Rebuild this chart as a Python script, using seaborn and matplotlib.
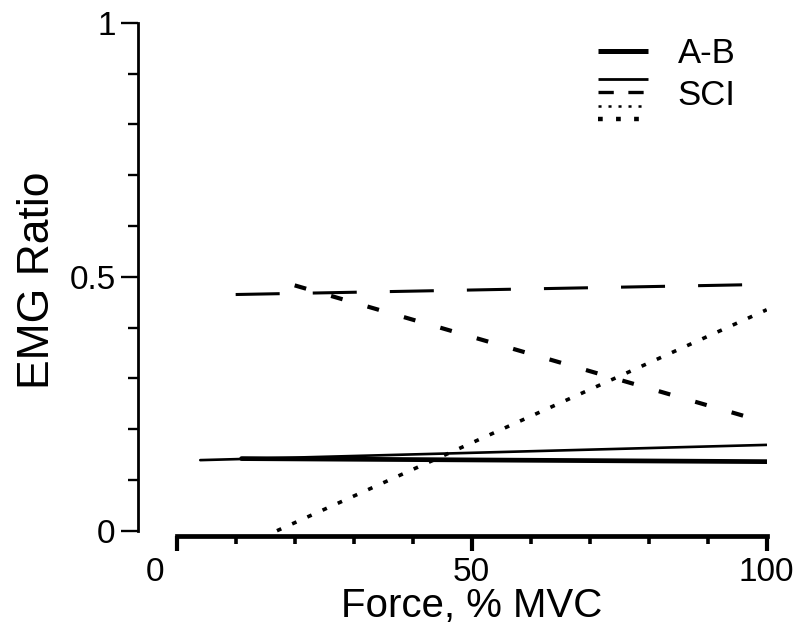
import numpy as np
import pandas as pd
import seaborn as sns
import matplotlib
matplotlib.use("Agg")
import matplotlib.pyplot as plt
from matplotlib.lines import Line2D
from matplotlib.legend_handler import HandlerBase
from matplotlib.ticker import MultipleLocator
import matplotlib.transforms as mtransforms

# ---- data ----
x_ticks = [0, 50, 100]
x_tick_labels = ["0", "50", "100"]
y_ticks = [0, 0.5, 1]
y_tick_labels = ["0", "0.5", "1"]

force_ab = [11, 100]
ratio_ab = [0.142, 0.136]

force_sci_solid = [4, 100]
ratio_sci_solid = [0.139, 0.169]

force_sci_dash = [10, 100]
ratio_sci_dash = [0.465, 0.485]

force_sci_short = [20, 100]
ratio_sci_short = [0.483, 0.213]

force_sci_dot = [17, 100]
ratio_sci_dot = [0.0, 0.435]

legend_labels = ["A-B", "SCI"]

# ---- style ----
sns.set_theme(style="ticks")
plt.rcParams["font.family"] = ["Liberation Sans", "DejaVu Sans"]
plt.rcParams["lines.scale_dashes"] = False
plt.rcParams["text.color"] = "black"
plt.rcParams["axes.labelcolor"] = "black"

fig = plt.figure(figsize=(7.94, 6.30), dpi=100)
ax = fig.add_axes([0.2225, 0.1487, 0.7431, 0.8152])

# ---- lines ----
sns.lineplot(x=force_ab, y=ratio_ab, ax=ax, color="black", lw=3.4,
             linestyle="-", sort=False, estimator=None)
sns.lineplot(x=force_sci_solid, y=ratio_sci_solid, ax=ax, color="black", lw=1.9,
             linestyle="-", sort=False, estimator=None)
sns.lineplot(x=force_sci_dash, y=ratio_sci_dash, ax=ax, color="black", lw=2.2,
             linestyle=(0, (31.7, 23.8)), sort=False, estimator=None)
sns.lineplot(x=force_sci_short, y=ratio_sci_short, ax=ax, color="black", lw=3.0,
             linestyle=(0, (8.6, 18.7)), sort=False, estimator=None)
sns.lineplot(x=force_sci_dot, y=ratio_sci_dot, ax=ax, color="black", lw=2.6,
             linestyle=(0, (3.4, 8.6)), sort=False, estimator=None)

# ---- axes ----
ax.set_xlim(0, 100)
ax.set_ylim(-0.011, 1.0)
sns.despine(ax=ax)
ax.spines["left"].set_position(("outward", 27.9))
ax.spines["left"].set_bounds(0, 1)
ax.spines["bottom"].set_bounds(0, 100)
ax.spines["left"].set_linewidth(2.0)
ax.spines["bottom"].set_linewidth(3.4)
for s in ("left", "bottom"):
    ax.spines[s].set_color("black")

ax.set_xticks(x_ticks)
ax.set_xticklabels(x_tick_labels)
ax.set_yticks(y_ticks)
ax.set_yticklabels(y_tick_labels)
ax.xaxis.set_minor_locator(MultipleLocator(10))
ax.yaxis.set_minor_locator(MultipleLocator(0.1))
ax.tick_params(axis="x", which="major", direction="out", length=11, width=3.0,
               pad=4, labelsize=24, color="black", labelcolor="black")
ax.tick_params(axis="x", which="minor", direction="out", length=6, width=2.6,
               color="black")
ax.tick_params(axis="y", which="major", direction="out", length=12, width=1.7,
               pad=4, labelsize=24, color="black", labelcolor="black")
ax.tick_params(axis="y", which="minor", direction="out", length=7, width=1.7,
               color="black")

# shift the "0" x tick label left as in the reference
lbl0 = ax.xaxis.get_major_ticks()[0].label1
lbl0.set_transform(lbl0.get_transform() +
                   mtransforms.ScaledTranslation(-0.22, 0, fig.dpi_scale_trans))

ax.set_xlabel("Force, % MVC", fontsize=29, labelpad=-1)
ax.set_ylabel("EMG Ratio", fontsize=32)
ax.yaxis.set_label_coords(-0.201, 0.499)

# ---- legend ----
class StackedHandler(HandlerBase):
    def __init__(self, offsets):
        super().__init__()
        self.offsets = offsets

    def create_artists(self, legend, orig_handle, xdescent, ydescent,
                       width, height, fontsize, trans):
        arts = []
        yc = height / 2 - ydescent
        for h, off in zip(orig_handle, self.offsets):
            ln = Line2D([-xdescent, width - xdescent], [yc + off, yc + off])
            ln.update_from(h)
            ln.set_transform(trans)
            arts.append(ln)
        return arts


h_ab = Line2D([], [], color="black", lw=3.6, solid_capstyle="butt")
h_sci = (
    Line2D([], [], color="black", lw=2.0, solid_capstyle="butt"),
    Line2D([], [], color="black", lw=2.4, linestyle=(0, (11, 10.5))),
    Line2D([], [], color="black", lw=1.8, linestyle=(0, (2.2, 5.0))),
    Line2D([], [], color="black", lw=3.2, linestyle=(0, (3.4, 9.6))),
)
leg = ax.legend(
    [h_ab, h_sci], legend_labels,
    handler_map={h_sci: StackedHandler([9.4, 0.7, -9.4, -19.4])},
    loc="upper left", bbox_to_anchor=(598 / 794, 1 - 37 / 630),
    bbox_transform=fig.transFigure, frameon=False, fontsize=25,
    handlelength=1.44, handletextpad=0.86, labelspacing=0.25,
    borderpad=0, borderaxespad=0,
)

fig.savefig("out.png", dpi=100)
